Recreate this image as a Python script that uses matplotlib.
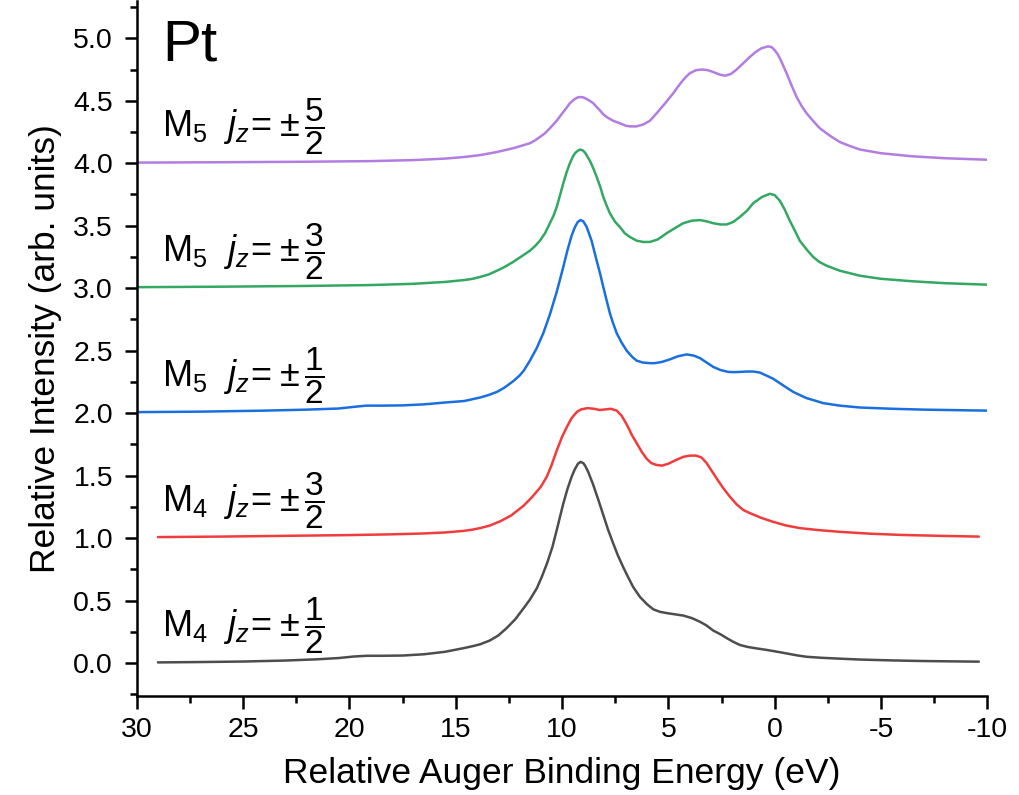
import matplotlib
matplotlib.use("Agg")
import matplotlib.pyplot as plt
from matplotlib.ticker import MultipleLocator

plt.rcParams['font.family'] = ['Liberation Sans', 'DejaVu Sans']
plt.rcParams['mathtext.fontset'] = 'custom'
plt.rcParams['mathtext.rm'] = 'Liberation Sans'
plt.rcParams['mathtext.it'] = 'Liberation Sans:italic'
plt.rcParams['mathtext.bf'] = 'Liberation Sans:bold'
plt.rcParams['axes.unicode_minus'] = False

# ---- data ----
E_m4_half = [29.0, 27.0, 25.0, 23.0, 21.5, 20.5, 19.8, 19.2, 18.5, 17.5, 16.5, 15.5, 14.6, 14.2, 13.85,
             13.4, 13.0, 12.6, 12.2, 11.8, 11.5, 11.18, 10.95, 10.7, 10.45, 10.24, 9.95, 9.75, 9.55, 9.4,
             9.25, 9.13, 9.0, 8.9, 8.77, 8.54, 8.3, 8.07, 7.84, 7.6, 7.37, 7.13, 6.9, 6.66, 6.34,
             6.0, 5.71, 5.4, 5.08, 4.7, 4.3, 3.9, 3.51, 3.2, 2.89, 2.55, 2.26, 1.95, 1.64, 1.25,
             0.85, 0.45, 0.07, -0.3, -0.71, -1.1, -1.5, -2.2, -3.06, -4.0, -5.5, -7.0, -8.5, -9.6]
I_m4_half = [0.005, 0.008, 0.012, 0.02, 0.03, 0.04, 0.052, 0.058, 0.058, 0.06, 0.07, 0.09, 0.12, 0.135, 0.15,
             0.18, 0.22, 0.28, 0.35, 0.44, 0.51, 0.60, 0.69, 0.80, 0.93, 1.07, 1.27, 1.39, 1.49, 1.55,
             1.595, 1.61, 1.60, 1.575, 1.53, 1.43, 1.31, 1.19, 1.07, 0.96, 0.86, 0.77, 0.69, 0.61, 0.53,
             0.47, 0.43, 0.41, 0.40, 0.39, 0.38, 0.36, 0.33, 0.30, 0.26, 0.23, 0.20, 0.17, 0.145, 0.128,
             0.117, 0.107, 0.096, 0.085, 0.072, 0.06, 0.05, 0.042, 0.035, 0.028, 0.021, 0.016, 0.013, 0.011]

E_m4_3half = [29.0, 26.0, 23.0, 20.0, 18.0, 16.5, 15.5, 14.6, 14.2, 13.85, 13.4, 12.9, 12.4, 11.8, 11.4,
              11.0, 10.72, 10.5, 10.25, 10.0, 9.77, 9.55, 9.3, 9.1, 8.8, 8.5, 8.22, 7.95, 7.7, 7.43,
              7.2, 6.96, 6.7, 6.49, 6.25, 6.02, 5.8, 5.55, 5.3, 5.0, 4.7, 4.3, 3.99, 3.7, 3.44,
              3.2, 2.97, 2.7, 2.42, 2.1, 1.79, 1.48, 1.17, 0.6, 0.07, -0.55, -1.18, -2.0, -3.06, -4.5,
              -6.0, -8.0, -9.6]
I_m4_3half = [1.008, 1.012, 1.018, 1.024, 1.03, 1.037, 1.045, 1.058, 1.068, 1.08, 1.10, 1.135, 1.18, 1.26, 1.33,
              1.41, 1.49, 1.58, 1.70, 1.81, 1.89, 1.96, 2.01, 2.03, 2.04, 2.035, 2.025, 2.03, 2.035, 2.02,
              1.98, 1.91, 1.82, 1.76, 1.69, 1.635, 1.60, 1.585, 1.58, 1.595, 1.62, 1.65, 1.66, 1.66, 1.645,
              1.60, 1.54, 1.47, 1.40, 1.33, 1.27, 1.225, 1.20, 1.16, 1.13, 1.10, 1.08, 1.065, 1.05, 1.035,
              1.025, 1.017, 1.012]

E_m5_half = [30.0, 27.0, 24.0, 22.0, 20.5, 19.8, 19.2, 18.5, 17.5, 16.5, 15.5, 14.6, 13.85, 13.45, 13.06,
             12.7, 12.3, 12.0, 11.8, 11.51, 11.19, 10.88, 10.57, 10.25, 9.94, 9.75, 9.55, 9.39, 9.26, 9.13,
             9.0, 8.84, 8.61, 8.37, 8.2, 8.06, 7.9, 7.75, 7.6, 7.43, 7.2, 6.96, 6.7, 6.49, 6.2,
             5.87, 5.63, 5.3, 4.93, 4.55, 4.14, 3.8, 3.51, 3.2, 2.89, 2.55, 2.19, 1.9, 1.64, 1.3,
             1.01, 0.7, 0.38, 0.07, -0.24, -0.55, -0.87, -1.18, -1.5, -1.9, -2.28, -3.06, -4.0, -5.5,
             -7.0, -8.5, -10.0]
I_m5_half = [2.008, 2.012, 2.02, 2.028, 2.037, 2.05, 2.06, 2.06, 2.062, 2.07, 2.085, 2.097, 2.125, 2.145, 2.17,
             2.205, 2.255, 2.30, 2.34, 2.42, 2.52, 2.64, 2.79, 2.97, 3.17, 3.30, 3.42, 3.49, 3.53, 3.545,
             3.535, 3.49, 3.38, 3.22, 3.11, 3.01, 2.90, 2.80, 2.72, 2.64, 2.565, 2.50, 2.45, 2.42, 2.405,
             2.40, 2.40, 2.41, 2.43, 2.455, 2.47, 2.46, 2.44, 2.405, 2.37, 2.345, 2.33, 2.328, 2.33, 2.333,
             2.333, 2.325, 2.30, 2.275, 2.24, 2.205, 2.17, 2.145, 2.12, 2.10, 2.08, 2.06, 2.045, 2.035,
             2.028, 2.024, 2.02]

E_m5_3half = [30.0, 26.0, 22.0, 19.0, 17.0, 15.5, 14.6, 14.2, 13.85, 13.45, 13.06, 12.7, 12.3, 11.9, 11.51,
              11.25, 11.04, 10.8, 10.57, 10.4, 10.25, 10.1, 9.94, 9.78, 9.63, 9.5, 9.39, 9.26, 9.13, 9.0,
              8.9, 8.69, 8.53, 8.37, 8.2, 8.06, 7.9, 7.75, 7.5, 7.28, 7.05, 6.81, 6.49, 6.18, 5.87,
              5.5, 5.08, 4.7, 4.3, 3.9, 3.51, 3.2, 2.89, 2.55, 2.26, 1.95, 1.64, 1.3, 1.01, 0.6,
              0.23, 0.0, -0.24, -0.47, -0.71, -0.95, -1.18, -1.5, -1.81, -2.1, -2.44, -3.06, -4.0, -5.0,
              -6.5, -8.0, -10.0]
I_m5_3half = [3.008, 3.012, 3.018, 3.025, 3.035, 3.05, 3.065, 3.075, 3.09, 3.11, 3.14, 3.17, 3.21, 3.255, 3.30,
              3.34, 3.38, 3.44, 3.52, 3.58, 3.65, 3.74, 3.84, 3.93, 4.00, 4.05, 4.08, 4.10, 4.11, 4.10,
              4.08, 4.02, 3.96, 3.89, 3.81, 3.73, 3.66, 3.60, 3.53, 3.49, 3.44, 3.41, 3.38, 3.37, 3.37,
              3.39, 3.44, 3.48, 3.52, 3.54, 3.545, 3.535, 3.52, 3.51, 3.51, 3.53, 3.57, 3.62, 3.68, 3.73,
              3.755, 3.745, 3.70, 3.63, 3.54, 3.46, 3.38, 3.31, 3.25, 3.21, 3.18, 3.14, 3.10, 3.075,
              3.055, 3.04, 3.028]

E_m5_5half = [30.0, 26.0, 22.0, 19.0, 17.0, 15.5, 14.6, 13.85, 13.06, 12.3, 11.9, 11.51, 11.25, 11.04, 10.8,
              10.57, 10.25, 9.94, 9.78, 9.63, 9.5, 9.39, 9.26, 9.13, 9.0, 8.85, 8.7, 8.53, 8.37, 8.2,
              8.05, 7.9, 7.6, 7.28, 7.0, 6.81, 6.5, 6.18, 5.87, 5.55, 5.35, 5.15, 4.96, 4.77, 4.58,
              4.38, 4.18, 3.99, 3.7, 3.44, 3.15, 2.89, 2.6, 2.34, 2.05, 1.79, 1.48, 1.17, 0.9, 0.62,
              0.31, 0.15, 0.0, -0.15, -0.3, -0.56, -0.8, -1.03, -1.26, -1.5, -1.8, -2.12, -2.6, -3.06,
              -3.5, -4.0, -5.0, -6.5, -8.0, -10.0]
I_m5_5half = [4.005, 4.008, 4.012, 4.017, 4.025, 4.037, 4.05, 4.065, 4.09, 4.12, 4.14, 4.16, 4.185, 4.21, 4.24,
              4.28, 4.34, 4.41, 4.445, 4.48, 4.50, 4.515, 4.527, 4.53, 4.527, 4.515, 4.50, 4.48, 4.45, 4.42,
              4.39, 4.37, 4.34, 4.32, 4.30, 4.295, 4.295, 4.31, 4.34, 4.40, 4.44, 4.48, 4.52, 4.56, 4.605,
              4.65, 4.69, 4.72, 4.745, 4.75, 4.745, 4.73, 4.71, 4.70, 4.715, 4.75, 4.80, 4.85, 4.89, 4.92,
              4.935, 4.93, 4.905, 4.87, 4.82, 4.72, 4.62, 4.53, 4.46, 4.40, 4.34, 4.28, 4.22, 4.17,
              4.14, 4.11, 4.08, 4.055, 4.04, 4.028]

series_E = [E_m4_half, E_m4_3half, E_m5_half, E_m5_3half, E_m5_5half]
series_I = [I_m4_half, I_m4_3half, I_m5_half, I_m5_3half, I_m5_5half]
colors = ['#4d4d4d', '#f03c3c', '#1a6fe0', '#33a862', '#b27de0']
shells = ['4', '4', '5', '5', '5']
numerators = ['1', '3', '1', '3', '5']
offsets = [0, 1, 2, 3, 4]

x_ticks = [30, 25, 20, 15, 10, 5, 0, -5, -10]
y_ticks = [0.0, 0.5, 1.0, 1.5, 2.0, 2.5, 3.0, 3.5, 4.0, 4.5, 5.0]

fig = plt.figure(figsize=(10.2, 7.95), dpi=100)
ax = fig.add_axes([0.134, 0.1245, 0.834, 0.8745])

for E, I, c in zip(series_E, series_I, colors):
    ax.plot(E, I, color=c, lw=1.8, solid_joinstyle='round', solid_capstyle='round')

for s, n, off in zip(shells, numerators, offsets):
    ax.text(28.82, off + 0.22, r'$\mathrm{M}_{%s}\ \ j_z\! =$' % s,
            fontsize=26, ha='left', va='baseline')
    ax.text(23.3, off + 0.22, r'$\pm$', fontsize=26, ha='left', va='baseline')
    ax.text(22.15, off + 0.295, r'$\dfrac{%s}{2}$' % n,
            fontsize=24, ha='left', va='center')

ax.text(28.8, 4.82, 'Pt', fontsize=42, ha='left', va='baseline')

ax.set_xlim(30, -10)
ax.set_ylim(-0.264, 5.3)
ax.set_xticks(x_ticks)
ax.set_xticklabels([str(v) for v in x_ticks])
ax.set_yticks(y_ticks)
ax.set_yticklabels(['%.1f' % v for v in y_ticks])
ax.xaxis.set_minor_locator(MultipleLocator(2.5))
ax.yaxis.set_minor_locator(MultipleLocator(0.25))

for side in ['top', 'right']:
    ax.spines[side].set_visible(False)
for side in ['left', 'bottom']:
    ax.spines[side].set_linewidth(1.8)

ax.tick_params(which='major', direction='out', length=9, width=1.8, labelsize=20.5)
ax.tick_params(axis='x', which='major', pad=6)
ax.tick_params(axis='y', which='major', pad=8)
ax.tick_params(which='minor', direction='out', length=5, width=1.8)

ax.set_xlabel('Relative Auger Binding Energy (eV)', fontsize=25.5, labelpad=10)
ax.set_ylabel('Relative Intensity (arb. units)', fontsize=25.5, labelpad=8)

fig.savefig('out.png', dpi=100)
